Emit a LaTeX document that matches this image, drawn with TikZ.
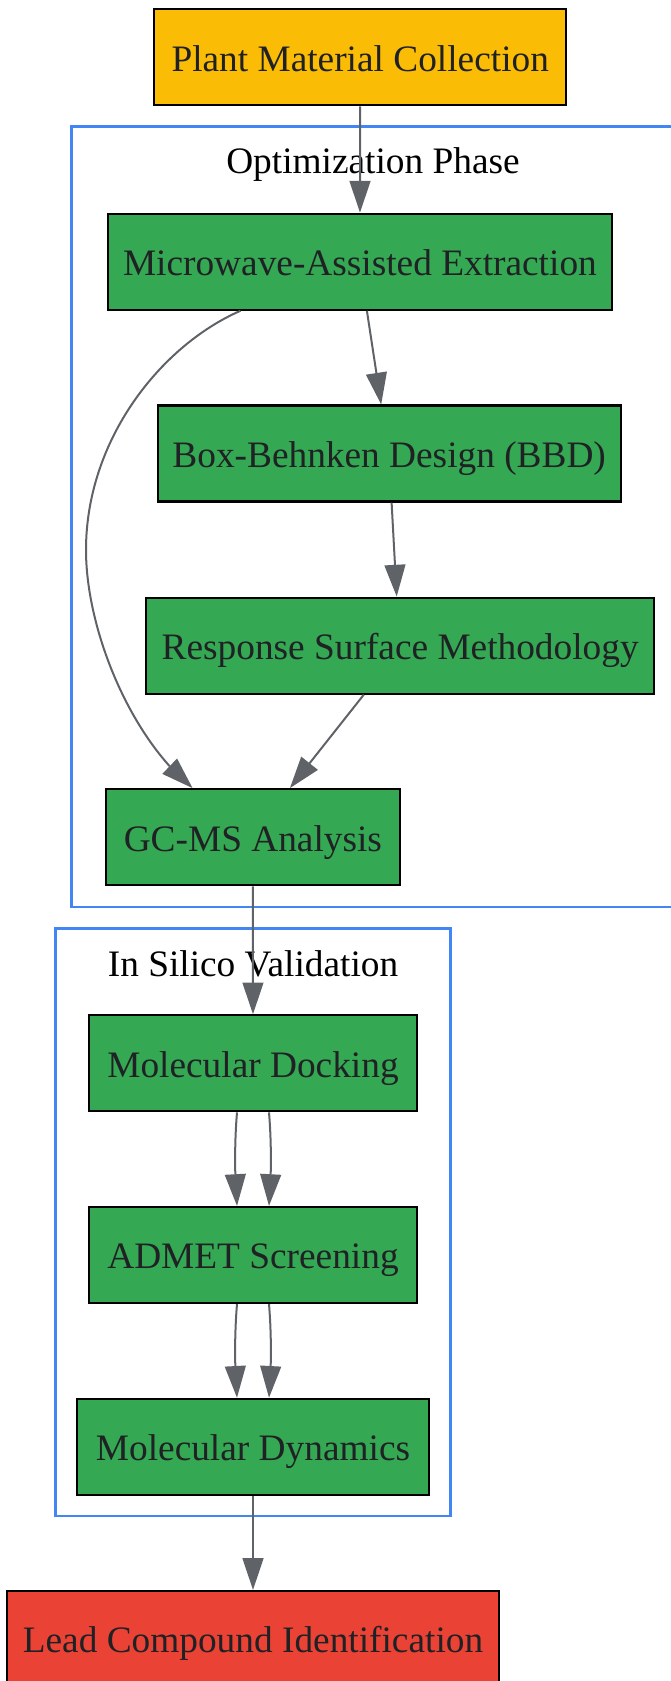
\documentclass[tikz,border=0pt]{standalone}
\usepackage{xcolor}
\usepackage{fontspec}
\setmainfont{Liberation Serif}
\usepackage{tikz}
\usetikzlibrary{calc}
\usetikzlibrary{arrows.meta,bending}
\definecolor{gyellow}{HTML}{FBBC05}
\definecolor{ggreen}{HTML}{34A853}
\definecolor{gred}{HTML}{EA4335}
\definecolor{gblue}{HTML}{4285F4}
\definecolor{edgegray}{HTML}{5F6368}
\definecolor{txtdark}{HTML}{202124}
\tikzset{
  stagebox/.style = {draw=black, line width=0.8pt, rectangle, inner sep=0pt,
    minimum height=36pt, text height=13.4pt, text depth=3pt,
    text=txtdark, font=\fontsize{14}{16}\selectfont},
  flow/.style = {draw=edgegray, line width=0.75pt,
    -{Triangle[length=11.9pt,width=7.8pt,flex]}},
  cluster/.style = {draw=gblue, line width=1pt},
  clusterlabel/.style = {font=\fontsize{14}{16}\selectfont, text=black, anchor=base, inner sep=0pt}
}

\begin{document}
\begin{tikzpicture}[x=0.375pt,y=-0.375pt]
  \useasboundingbox (0,0) rectangle (671,1681);
  \draw[cluster] (71.5,126.6) rectangle (690,907);
  \draw[cluster] (55.6,928.4) rectangle (450.6,1516);
  \node[clusterlabel] (optlabel) at (373,173.3) {Optimization Phase};
  \node[clusterlabel] (silicolabel) at (253,976) {In Silico Validation};

  \node[stagebox, fill=gyellow, minimum width=154.4pt] (plant) at (360.2,57.3) {Plant Material Collection};
  \node[stagebox, fill=ggreen, minimum width=188.9pt] (mw) at (359.9,261.7) {Microwave-Assisted Extraction};
  \node[stagebox, fill=ggreen, minimum width=173.6pt] (bbd) at (389.2,453.5) {Box-Behnken Design (BBD)};
  \node[stagebox, fill=ggreen, minimum width=190.4pt] (rsm) at (400.2,645.6) {Response Surface Methodology};
  \node[stagebox, fill=ggreen, minimum width=110.1pt] (gcms) at (252.9,837.2) {GC-MS Analysis};
  \node[stagebox, fill=ggreen, minimum width=123pt] (dock) at (253,1063.3) {Molecular Docking};
  \node[stagebox, fill=ggreen, minimum width=123pt] (admet) at (253,1255) {ADMET Screening};
  \node[stagebox, fill=ggreen, minimum width=132pt] (dyn) at (253,1446.8) {Molecular Dynamics};
  \node[stagebox, fill=gred, minimum width=184.4pt] (lead) at (253,1639) {Lead Compound Identification};

  \draw[flow] (plant) -- (mw);
  \draw[flow] ($(mw.south)+(7,0)$) -- ($(bbd.north)+(-8,0)$);
  \draw[flow] ($(bbd.south)+(2.4,0)$) -- ($(rsm.north)+(-3.5,0)$);
  \draw[flow] ($(rsm.south)+(-36.4,0)$) -- ($(gcms.north)+(37,0)$);
  \draw[flow] ($(mw.south)+(-119.4,0)$) .. controls +(-80,35) and +(0,-110) .. (86,550)
    .. controls +(0,80) and +(-62,-50) .. ($(gcms.north)+(-60.3,0)$);
  \draw[flow] (gcms) -- (dock);
  \foreach \a/\b in {dock/admet,admet/dyn}
    \foreach \s in {-1,1}
      \draw[flow] ($(\a.south)+(16*\s,0)$) .. controls +(2.5*\s,30) and +(2.5*\s,-30) .. ($(\b.north)+(16*\s,0)$);
  \draw[flow] (dyn) -- (lead);
\end{tikzpicture}
\end{document}
